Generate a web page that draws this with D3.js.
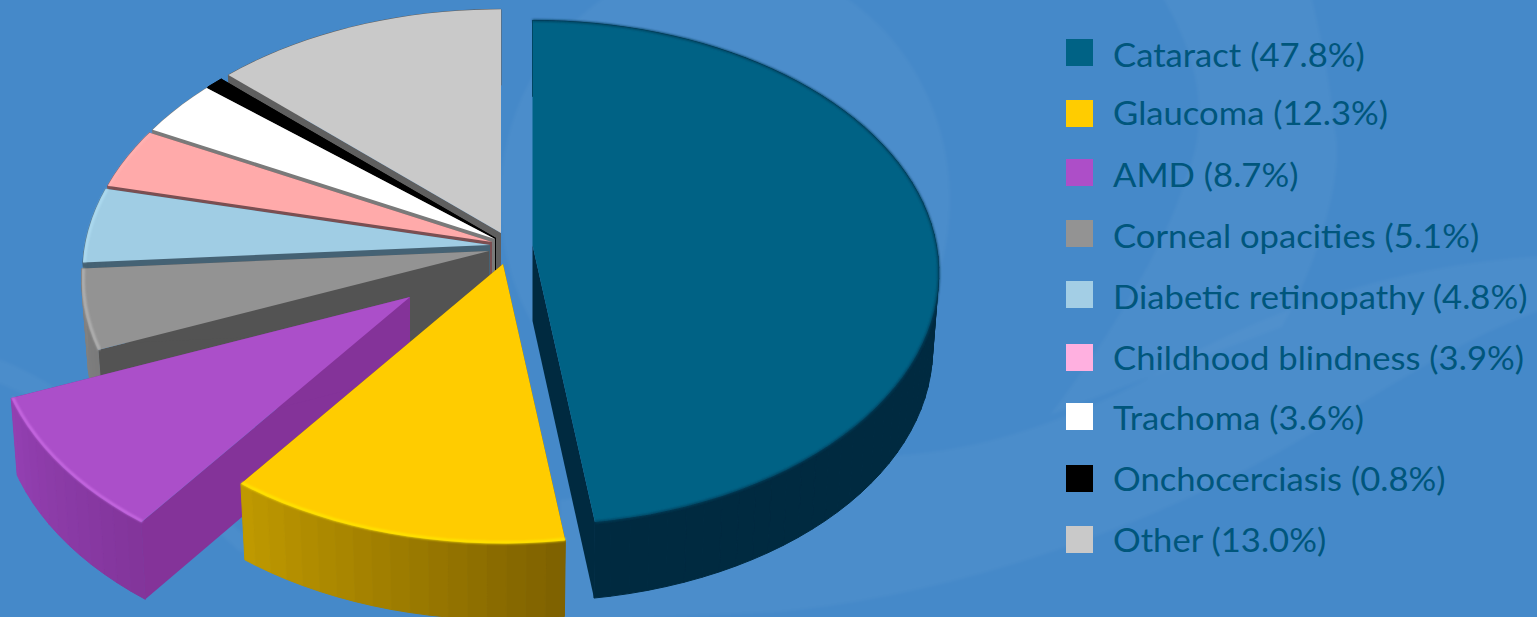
<!DOCTYPE html>
<html>
<head>
<meta charset="utf-8">
<title>Causes of blindness</title>
<script src="https://cdn.jsdelivr.net/npm/d3@7"></script>
<style>
  html, body { margin: 0; padding: 0; background: #4589c9; overflow: hidden; }
  svg { display: block; }
  .legend-label { font-family: Lato, "Noto Sans", sans-serif; font-size: 33px; fill: #00567c; }
</style>
</head>
<body>
<svg id="chart" width="1537" height="617"></svg>
<script>
// Share of global blindness by cause, percent
const causes = ["Cataract", "Glaucoma", "AMD", "Corneal opacities", "Diabetic retinopathy",
                "Childhood blindness", "Trachoma", "Onchocerciasis", "Other"];
const shares = [47.8, 12.3, 8.7, 5.1, 4.8, 3.9, 3.6, 0.8, 13.0];

// Colours per cause
const topColours    = ["#006285", "#ffcc00", "#ab4fc9", "#939393", "#a0cde4", "#ffaaaa", "#ffffff", "#000000", "#c9c9c9"];
const legendColours = ["#006285", "#ffcc00", "#ad4ec8", "#939393", "#a3cee5", "#ffb0e0", "#ffffff", "#000000", "#c9c9c9"];
const edgeColours   = ["#002a40", "#806600", "#843399", "#535353", "#456274", "#7a4f52", "#7a7a7a", "#000000", "#5f5f5f"];
const rimFrom       = ["#002a40", "#c09a00", "#9340b2", "#828282", "#456274", "#7a4f52", "#7a7a7a", "#000000", "#5f5f5f"];
const rimTo         = ["#002a40", "#7d6000", "#82359a", "#7a7a7a", "#456274", "#7a4f52", "#7a7a7a", "#000000", "#5f5f5f"];
const bevelColours  = ["#003f5c", "#ffe600", "#cc6ee6", "#b4b4b4", "#b4e2f7", "#ffb8b8", "#ffffff", "#000000", "#c9c9c9"];
const bevelWidths   = [2, 2.6, 2.2, 2.6, 1.6, 1.2, 0, 0, 0];

// Where each wedge's tip sits once pulled out of the pie, and its slight growth towards the viewer
const tipX = [532.5, 503, 410, 489, 490, 492, 495, 496, 501];
const tipY = [245, 264, 297, 251, 245, 242, 239, 238, 233];
const grow = [0.997, 0.995, 1.02, 1, 1, 1, 1, 1, 0.993];
const wallDepth = [76, 76, 77, 76, 76, 76, 76, 76, 76];
const bevelInset = [1, 0.996, 0.996, 0.996, 0.996, 0.996, 1, 1, 1];

// Tilted-disc projection; the underside narrows slightly because it lies further away
const radiusX = 405, radiusY = 250, perspective = 0.11, farShrink = 0.985;

function project(i, angle, floor) {
  const X = Math.sin(angle), Y = -Math.cos(angle);
  const s = grow[i] / (1 - perspective * Y);
  return [tipX[i] + radiusX * X * s * (floor ? farShrink : 1),
          tipY[i] + radiusY * Y * s + (floor ? wallDepth[i] : 0)];
}
function tip(i, floor) {
  return [tipX[i], tipY[i] + (floor ? wallDepth[i] : 0)];
}

const svg = d3.select("#chart");
const defs = svg.append("defs");
defs.append("filter").attr("id", "soft").attr("x", "-5%").attr("y", "-5%").attr("width", "110%").attr("height", "110%")
  .append("feGaussianBlur").attr("stdDeviation", 0.9);
defs.append("filter").attr("id", "haze").attr("x", "-5%").attr("y", "-5%").attr("width", "110%").attr("height", "110%")
  .append("feGaussianBlur").attr("stdDeviation", 1.6);

// Background with faint sweeping bands
svg.append("rect").attr("width", 1537).attr("height", 617).attr("fill", "#4589c9");
const sweep = svg.append("g").attr("fill", "#ffffff").attr("fill-opacity", 0.032).attr("filter", "url(#haze)");
sweep.append("ellipse").attr("cx", 725).attr("cy", 200).attr("rx", 225).attr("ry", 240);
sweep.append("path").attr("d", "M1161,-5 C1200,60 1210,120 1186,177 C1165,250 1100,350 1050,415 L1282,327 C1320,260 1345,170 1335,130 C1330,80 1320,30 1311,-5 Z");
sweep.append("path").attr("d", "M560,622 L780,612 C1000,590 1200,500 1300,440 C1400,380 1470,335 1542,310 L1542,256 C1400,265 1280,305 1180,360 C1080,420 980,450 900,455 L560,500 Z");
sweep.append("path").attr("d", "M-5,358 C60,378 170,470 260,548 L240,552 C150,470 60,405 -5,382 Z");

const line = d3.line();
const pie = d3.pie().sort(null).startAngle(0).endAngle(2 * Math.PI);
const arcs = pie(shares);
const bandStep = 2.5 * Math.PI / 180;

// Cataract stands apart; the rest stack from the far side to the near side
const drawOrder = [0, 8, 7, 6, 5, 4, 3, 2, 1];

const slices = svg.selectAll("g.slice").data(drawOrder).join("g").attr("class", "slice");

slices.each(function (i) {
  const g = d3.select(this);
  const a = arcs[i];
  const steps = d3.range(a.startAngle, a.endAngle, bandStep).concat([a.endAngle]);
  const rim = steps.map(t => project(i, t, false));

  // Straight cut faces; a cut along the vertical has no visible width
  [a.startAngle, a.endAngle].filter(t => Math.abs(Math.sin(t)) > 1e-6).forEach(t => {
    g.append("path")
      .attr("d", line([tip(i, false), project(i, t, false), project(i, t, true), tip(i, true)]) + "Z")
      .attr("fill", edgeColours[i]);
  });

  // Outer wall, one narrow band per step
  const shade = d3.scaleLinear().domain([a.startAngle, a.endAngle]).range([rimTo[i], rimFrom[i]]);
  d3.pairs(steps).forEach(([t0, t1]) => {
    const col = shade((t0 + t1) / 2);
    g.append("path")
      .attr("d", line([project(i, t0, false), project(i, t1, false), project(i, t1, true), project(i, t0, true)]) + "Z")
      .attr("fill", col).attr("stroke", col).attr("stroke-width", 1);
  });

  // Top face
  g.append("path")
    .attr("d", line([tip(i, false)].concat(rim)) + "Z")
    .attr("fill", topColours[i]);

  // Soft bevel following the rim
  if (bevelWidths[i] > 0) {
    g.append("path")
      .attr("d", line(steps.map(t => {
        const p = project(i, t, false), q = tip(i, false);
        return [q[0] + (p[0] - q[0]) * bevelInset[i], q[1] + (p[1] - q[1]) * bevelInset[i]];
      })))
      .attr("fill", "none")
      .attr("stroke", bevelColours[i])
      .attr("stroke-width", bevelWidths[i])
      .attr("filter", "url(#soft)");
  }
});

// Legend
const boxTops = [39, 100, 159, 220, 281, 344, 403, 465, 526];
const baselines = [67, 125, 187, 248, 309, 370, 430, 491, 552];
const legend = svg.selectAll("g.legend").data(causes).join("g").attr("class", "legend");
legend.append("rect")
  .attr("x", 1066).attr("y", (d, i) => boxTops[i])
  .attr("width", 27).attr("height", 27).attr("fill", (d, i) => legendColours[i]);
legend.append("text")
  .attr("class", "legend-label")
  .attr("transform", (d, i) => `translate(1113,${baselines[i]}) scale(1.05,1)`)
  .text((d, i) => `${d} (${shares[i].toFixed(1)}%)`);
</script>
</body>
</html>
